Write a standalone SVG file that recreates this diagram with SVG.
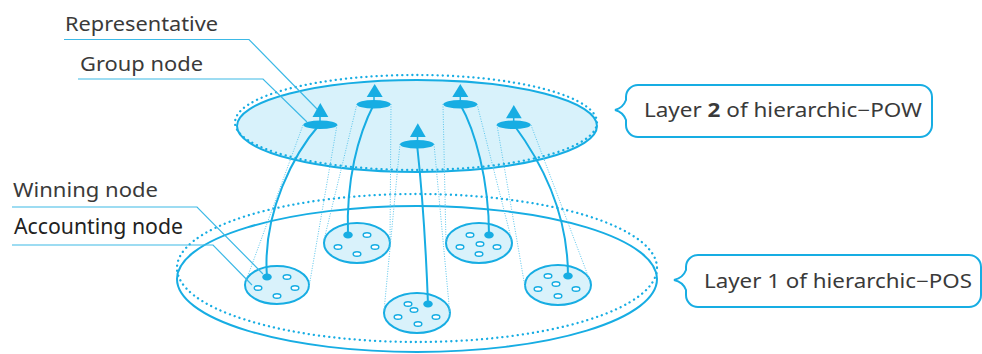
<svg xmlns="http://www.w3.org/2000/svg" width="982" height="354" viewBox="0 0 982 354">
<style>
.lbl{font-family:"Noto Sans","Liberation Sans",sans-serif;font-size:20px;fill:#3a3a3a}
.lay{font-family:"Noto Sans","Liberation Sans",sans-serif;font-size:19px;fill:#3a3a3a}
.acc{font-family:"Noto Sans","Liberation Sans",sans-serif;font-size:21px;fill:#222}
.solid{fill:none;stroke:#17ade3;stroke-width:2}
.dots{fill:none;stroke:#17ade3;stroke-width:2.3;stroke-dasharray:0.1 5;stroke-linecap:round}
.proj{fill:none;stroke:#5cc6ec;stroke-width:1;stroke-dasharray:1 1.5}
.lead{fill:none;stroke:#3db9e6;stroke-width:1.2}
.curve{fill:none;stroke:#17ade3;stroke-width:2}
.clu{fill:#d9f2fb;stroke:#17ade3;stroke-width:2}
.acn{fill:#fff;stroke:#17ade3;stroke-width:1.5}
.win{fill:#17ade3}
.grp{fill:#17ade3}
.box{fill:#fff;stroke:#17ade3;stroke-width:2}
</style>

<g id="layer1">
  <ellipse class="solid" cx="417" cy="279" rx="240" ry="73"/>
  <ellipse class="dots" cx="417" cy="268" rx="240" ry="74"/>
</g>

<g id="layer2">
  <ellipse cx="417" cy="126" rx="180" ry="46" fill="#d8f2fb" stroke="#17ade3" stroke-width="2"/>
  <ellipse class="dots" cx="416" cy="122.5" rx="181" ry="47.5"/>
</g>

<g id="clusterA">
  <ellipse class="clu" cx="277" cy="285" rx="32" ry="19"/>
  <ellipse class="acn" cx="287" cy="277" rx="3.8" ry="2.3"/>
  <ellipse class="acn" cx="258" cy="288" rx="3.8" ry="2.3"/>
  <ellipse class="acn" cx="295" cy="288" rx="3.8" ry="2.3"/>
  <ellipse class="acn" cx="277" cy="296" rx="3.8" ry="2.3"/>
</g>
<g id="clusterB">
  <ellipse class="clu" cx="357" cy="243" rx="33" ry="20"/>
  <ellipse class="acn" cx="367" cy="235" rx="3.8" ry="2.3"/>
  <ellipse class="acn" cx="338" cy="247" rx="3.8" ry="2.3"/>
  <ellipse class="acn" cx="375" cy="247" rx="3.8" ry="2.3"/>
  <ellipse class="acn" cx="357" cy="254" rx="3.8" ry="2.3"/>
</g>
<g id="clusterC">
  <ellipse class="clu" cx="417" cy="313" rx="33" ry="20"/>
  <ellipse class="acn" cx="408" cy="304" rx="3.8" ry="2.3"/>
  <ellipse class="acn" cx="414" cy="310" rx="3.8" ry="2.3"/>
  <ellipse class="acn" cx="398" cy="317" rx="3.8" ry="2.3"/>
  <ellipse class="acn" cx="436" cy="317" rx="3.8" ry="2.3"/>
  <ellipse class="acn" cx="418" cy="324" rx="3.8" ry="2.3"/>
</g>
<g id="clusterD">
  <ellipse class="clu" cx="479" cy="243" rx="33" ry="20"/>
  <ellipse class="acn" cx="470" cy="235" rx="3.8" ry="2.3"/>
  <ellipse class="acn" cx="480" cy="244" rx="3.8" ry="2.3"/>
  <ellipse class="acn" cx="460" cy="247" rx="3.8" ry="2.3"/>
  <ellipse class="acn" cx="497" cy="247" rx="3.8" ry="2.3"/>
  <ellipse class="acn" cx="479" cy="254" rx="3.8" ry="2.3"/>
</g>
<g id="clusterE">
  <ellipse class="clu" cx="558" cy="285" rx="33" ry="20"/>
  <ellipse class="acn" cx="548" cy="276" rx="3.8" ry="2.3"/>
  <ellipse class="acn" cx="556" cy="284" rx="3.8" ry="2.3"/>
  <ellipse class="acn" cx="538" cy="289" rx="3.8" ry="2.3"/>
  <ellipse class="acn" cx="576" cy="289" rx="3.8" ry="2.3"/>
  <ellipse class="acn" cx="558" cy="296" rx="3.8" ry="2.3"/>
</g>

<g id="connectors">
  <g id="projections">
    <path class="proj" d="M303,125 L246,281 M337,125 L309,287"/>
    <path class="proj" d="M357,104 L324,240 M391,104 L390,243"/>
    <path class="proj" d="M400,144 L384,311 M434,144 L450,315"/>
    <path class="proj" d="M443,104 L446,243 M477,104 L511.6,240"/>
    <path class="proj" d="M497,125 L525,287 M531,125 L590,281"/>
  </g>
  <path class="curve" d="M320,124 C295,152 262,212 267,277"/>
  <path class="curve" d="M374,104 C358,135 346,180 348,235"/>
  <path class="curve" d="M417,144 C422,190 426,250 428,304"/>
  <path class="curve" d="M460,104 C475,130 489,180 489,235"/>
  <path class="curve" d="M514,125 C540,160 568,210 568,276"/>
  <g id="leaders">
    <path class="lead" d="M64,39.5 H249 L318,110"/>
    <path class="lead" d="M78,79 H263 L307,122"/>
    <path class="lead" d="M12,207 H197 L263,274"/>
    <path class="lead" d="M12,245 H213 L252,285"/>
  </g>
</g>

<g id="winning-nodes">
  <ellipse class="win" cx="267" cy="277" rx="4.8" ry="3.5"/>
  <ellipse class="win" cx="348" cy="235" rx="4.8" ry="3.5"/>
  <ellipse class="win" cx="428" cy="304" rx="4.8" ry="3.5"/>
  <ellipse class="win" cx="489" cy="235" rx="4.8" ry="3.5"/>
  <ellipse class="win" cx="568" cy="276" rx="4.8" ry="3.5"/>
</g>

<g id="group1">
  <line x1="320" y1="115" x2="320" y2="124" stroke="#17ade3" stroke-width="1.5"/>
  <polygon class="grp" points="320.3,103 312.5,117 328.3,117"/>
  <ellipse class="grp" cx="320.3" cy="124.8" rx="17" ry="4.3"/>
</g>
<g id="group2">
  <line x1="374" y1="95" x2="374" y2="104" stroke="#17ade3" stroke-width="1.5"/>
  <polygon class="grp" points="374.7,84 366.7,97 382.7,97"/>
  <ellipse class="grp" cx="373.7" cy="104.2" rx="17" ry="4.3"/>
</g>
<g id="group3">
  <line x1="417.5" y1="135" x2="417.5" y2="144" stroke="#17ade3" stroke-width="1.5"/>
  <polygon class="grp" points="417.8,123.3 410,137 425.7,137"/>
  <ellipse class="grp" cx="417" cy="144.3" rx="17" ry="4.3"/>
</g>
<g id="group4">
  <line x1="460.3" y1="95" x2="460.3" y2="104" stroke="#17ade3" stroke-width="1.5"/>
  <polygon class="grp" points="460.3,84 452.3,97 468.3,97"/>
  <ellipse class="grp" cx="460.3" cy="104.2" rx="17" ry="4.3"/>
</g>
<g id="group5">
  <line x1="513.7" y1="116" x2="513.7" y2="125" stroke="#17ade3" stroke-width="1.5"/>
  <polygon class="grp" points="513.8,105 506,118.3 521.7,118.3"/>
  <ellipse class="grp" cx="513.7" cy="124.8" rx="17" ry="4.3"/>
</g>

<g id="labels">
  <text class="lbl" x="65" y="30.5" textLength="153" lengthAdjust="spacingAndGlyphs">Representative</text>
  <text class="lbl" x="80" y="70.5" textLength="123" lengthAdjust="spacingAndGlyphs">Group node</text>
  <text class="lbl" x="13" y="196.5" textLength="145" lengthAdjust="spacingAndGlyphs">Winning node</text>
  <text class="acc" x="14" y="234" textLength="169" lengthAdjust="spacingAndGlyphs">Accounting node</text>
</g>

<g id="callout-layer2">
  <path class="box" d="M638,85 H920 A12,12 0 0 1 932,97 V125 A12,12 0 0 1 920,137 H638 A12,12 0 0 1 626,125 V120 Q623,112 615,110 Q623,108 626,100 V97 A12,12 0 0 1 638,85 Z"/>
  <text class="lay" x="644" y="117" textLength="278" lengthAdjust="spacingAndGlyphs">Layer <tspan font-weight="bold">2</tspan> of hierarchic−POW</text>
</g>
<g id="callout-layer1">
  <path class="box" d="M698,255 H969 A12,12 0 0 1 981,267 V295 A12,12 0 0 1 969,307 H698 A12,12 0 0 1 686,295 V290 Q683,282 674,280 Q683,278 686,270 V267 A12,12 0 0 1 698,255 Z"/>
  <text class="lay" x="704" y="287.5" textLength="268" lengthAdjust="spacingAndGlyphs">Layer 1 of hierarchic−POS</text>
</g>
</svg>
